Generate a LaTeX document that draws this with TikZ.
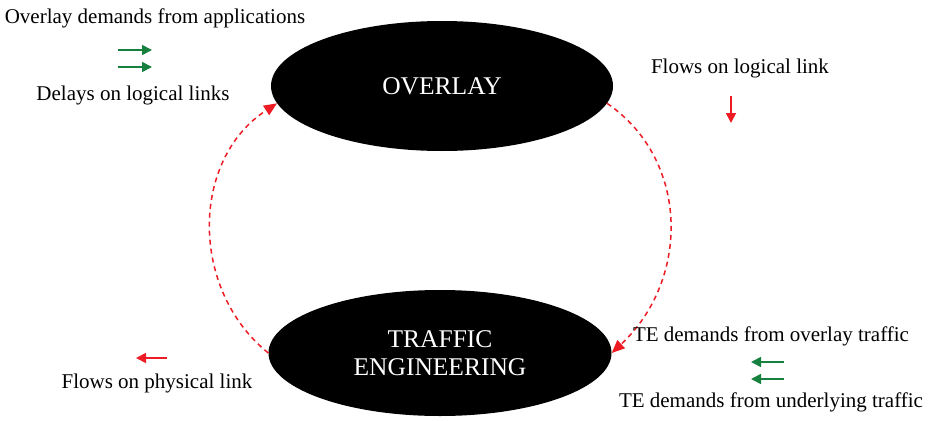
\documentclass[tikz,border=0pt]{standalone}
\usepackage{fontspec}
\setmainfont{Liberation Serif}
\usetikzlibrary{shapes.geometric,arrows.meta}
\definecolor{flowred}{RGB}{237,28,36}
\definecolor{flowgreen}{RGB}{22,128,62}
\tikzset{
  blob/.style={ellipse, fill=black, inner sep=0pt, text=white, align=center,
    font=\fontsize{25.5}{28}\selectfont},
  lbl/.style={inner sep=0pt, font=\fontsize{21}{25}\selectfont},
  loop/.style={draw=flowred, line width=1.5pt, dash pattern=on 5pt off 4pt,
    -{Triangle[length=13pt,width=11pt]}},
  redarrow/.style={draw=flowred, line width=1.7pt, -{Triangle[length=10pt,width=10pt]}},
  greenarrow/.style={draw=flowgreen, line width=1.7pt, -{Triangle[length=10pt,width=10pt]}},
}
\begin{document}
\begin{tikzpicture}[x=1pt,y=-1pt]
\useasboundingbox (0,0) rectangle (933,420);

% the two layers
\node[blob, minimum width=342pt, minimum height=130pt] (overlay) at (442,86) {OVERLAY};
\node[blob, minimum width=343pt, minimum height=126pt] (te) at (440,353) {TRAFFIC\\ENGINEERING};

% feedback loop between the layers
\draw[loop] (overlay.354) .. controls (690,160) and (690,280) .. (te.east);
\draw[loop] (te.west) .. controls (190,290) and (190,160) .. (overlay.186);

% top left: inputs to the overlay
\node[lbl] (odem) at (155,18) {Overlay demands from applications};
\node[lbl] (delays) at (133,95) {Delays on logical links};
\coordinate (g1s) at (118,50); \coordinate (g1e) at (152,50);
\coordinate (g2s) at (118,67); \coordinate (g2e) at (152,67);
\draw[greenarrow] (g1s) -- (g1e);
\draw[greenarrow] (g2s) -- (g2e);

% top right: overlay output
\node[lbl] (flowlog) at (740,68) {Flows on logical link};
\coordinate (r1s) at (731,96); \coordinate (r1e) at (731,123);
\draw[redarrow] (r1s) -- (r1e);

% bottom right: inputs to traffic engineering
\node[lbl] (teo) at (771,336) {TE demands from overlay traffic};
\node[lbl] (teu) at (771,402) {TE demands from underlying traffic};
\coordinate (g3s) at (784,362); \coordinate (g3e) at (751,362);
\coordinate (g4s) at (784,379); \coordinate (g4e) at (751,379);
\draw[greenarrow] (g3s) -- (g3e);
\draw[greenarrow] (g4s) -- (g4e);

% bottom left: traffic engineering output
\node[lbl] (flowphy) at (157,383) {Flows on physical link};
\coordinate (r2s) at (167,358); \coordinate (r2e) at (136,358);
\draw[redarrow] (r2s) -- (r2e);
\end{tikzpicture}
\end{document}
